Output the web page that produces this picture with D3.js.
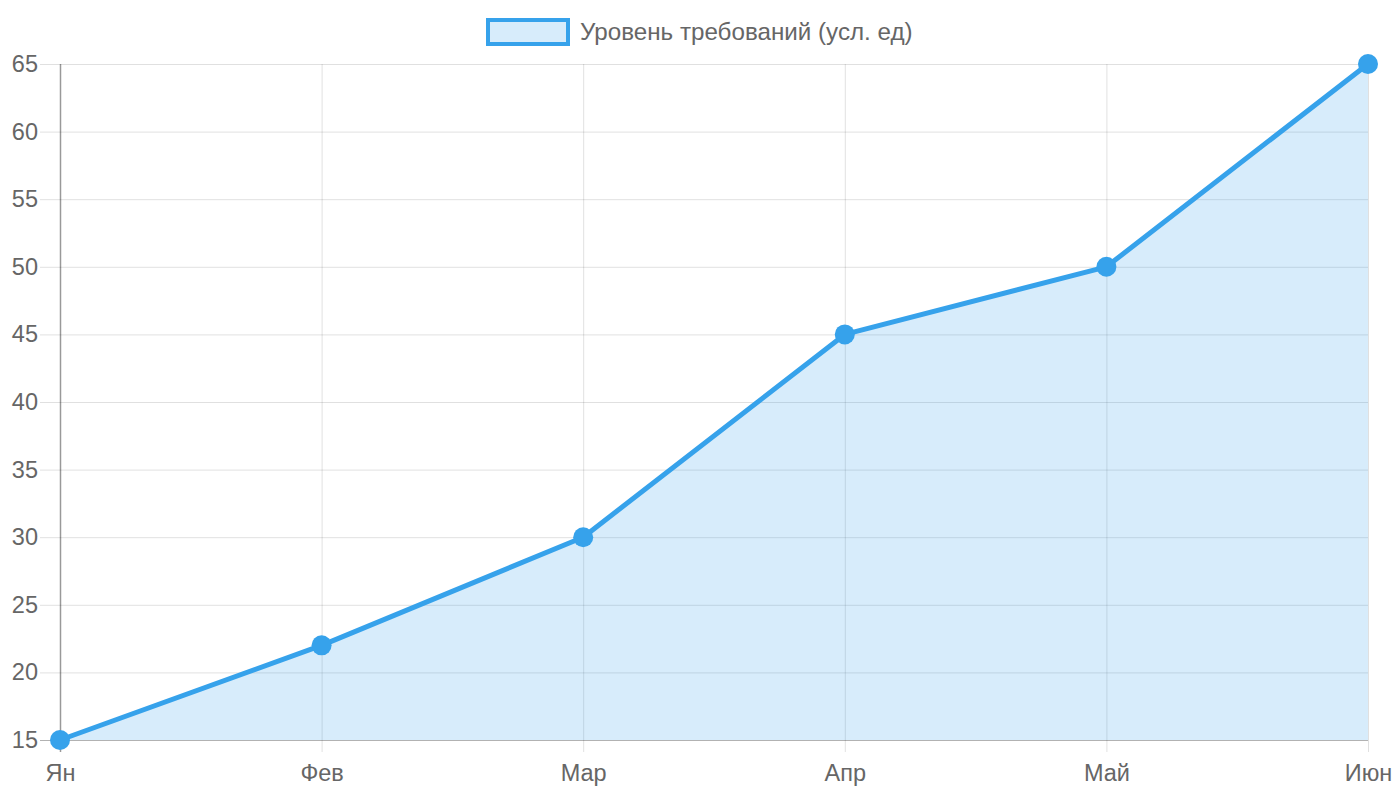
<!DOCTYPE html>
<html>
<head>
<meta charset="utf-8">
<script src="https://cdn.jsdelivr.net/npm/d3@7"></script>
<style>
  body { margin: 0; background: #fff; }
  text { font-family: "Liberation Sans", Arial, sans-serif; fill: #666; }
</style>
</head>
<body>
<svg id="chart" width="1400" height="800"></svg>
<script>
var months = ["Ян", "Фев", "Мар", "Апр", "Май", "Июн"];
var levels = [15, 22, 30, 45, 50, 65];
var yTicks = [15, 20, 25, 30, 35, 40, 45, 50, 55, 60, 65];
var seriesName = "Уровень требований (усл. ед)";

var margin = {top: 64, right: 32, bottom: 60, left: 60},
    width = 1400 - margin.left - margin.right,
    height = 800 - margin.top - margin.bottom;

var lineColor = "rgb(54,162,235)",
    fillColor = "rgba(54,162,235,0.2)",
    fontSize = 23.5;

var svg = d3.select("#chart");
var g = svg.append("g")
    .attr("transform", "translate(" + margin.left + "," + margin.top + ")");

var x = d3.scalePoint()
    .domain(months)
    .range([0, width]);

var y = d3.scaleLinear()
    .domain([15, 65])
    .range([height, 0]);

// horizontal grid + y labels
var yAxis = d3.axisLeft(y)
    .tickValues(yTicks)
    .tickSize(-width)
    .tickSizeOuter(0);
var gy = g.append("g").call(yAxis);
gy.select(".domain").remove();
gy.selectAll("line")
    .attr("x1", -20)
    .attr("stroke", function (d) { return d === 15 ? "rgba(0,0,0,0.3)" : "rgba(0,0,0,0.12)"; });
gy.selectAll("text")
    .attr("x", -22)
    .attr("font-size", fontSize)
    .style("font-family", "Liberation Sans, Arial, sans-serif")
    .attr("fill", "#666");

// vertical grid + x labels
var xAxis = d3.axisBottom(x)
    .tickSize(-height)
    .tickSizeOuter(0);
var gx = g.append("g")
    .attr("transform", "translate(0," + height + ")")
    .call(xAxis);
gx.select(".domain").remove();
gx.selectAll("line")
    .attr("y1", 12)
    .attr("stroke", function (d, i) { return i === 0 ? "rgba(0,0,0,0.4)" : "rgba(0,0,0,0.12)"; })
    .attr("stroke-width", function (d, i) { return i === 0 ? 1.5 : 1; });
gx.selectAll("text")
    .attr("y", 24)
    .attr("dy", "0.71em")
    .attr("font-size", fontSize)
    .style("font-family", "Liberation Sans, Arial, sans-serif")
    .attr("fill", "#666");

// area
var area = d3.area()
    .x(function (d, i) { return x(months[i]); })
    .y0(height)
    .y1(function (d) { return y(d); });
g.append("path")
    .datum(levels)
    .attr("fill", fillColor)
    .attr("d", area);

var line = d3.line()
    .x(function (d, i) { return x(months[i]); })
    .y(function (d) { return y(d); });
g.append("path")
    .datum(levels)
    .attr("fill", "none")
    .attr("stroke", lineColor)
    .attr("stroke-width", 5)
    .attr("stroke-linejoin", "round")
    .attr("d", line);

g.selectAll(".pt")
    .data(levels)
    .enter().append("circle")
    .attr("class", "pt")
    .attr("cx", function (d, i) { return x(months[i]); })
    .attr("cy", function (d) { return y(d); })
    .attr("r", 10)
    .attr("fill", lineColor);

// legend
var legend = svg.append("g").attr("transform", "translate(488,20)");
legend.append("rect")
    .attr("width", 80)
    .attr("height", 24)
    .attr("fill", fillColor)
    .attr("stroke", lineColor)
    .attr("stroke-width", 4);
legend.append("text")
    .attr("x", 92)
    .attr("y", 12)
    .attr("dy", "0.35em")
    .attr("font-size", 24.2)
    .text(seriesName);
</script>
</body>
</html>
